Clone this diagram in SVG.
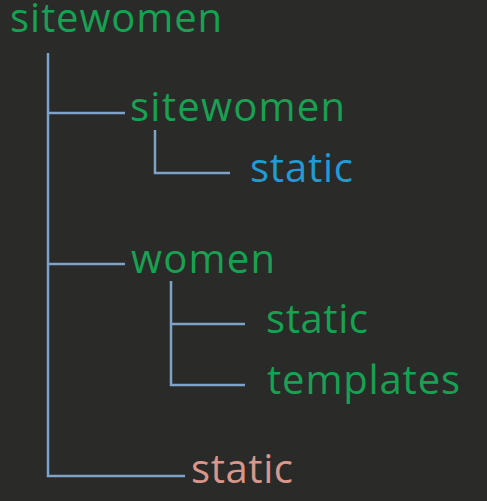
<svg xmlns="http://www.w3.org/2000/svg" width="487" height="501" viewBox="0 0 487 501">
<style>
text{font-family:"Open Sans","Liberation Sans",sans-serif;font-size:40px}
.g{fill:#17a152}
.b{fill:#1f9bd6}
.p{fill:#d8978a}
.c path{fill:none;stroke:#7fa2c9;stroke-width:2.5}
</style>
<rect width="487" height="501" fill="#2a2a29"/>
<g class="c" id="connectors">
<path d="M48,53 V476 H185"/>
<path d="M48,113 H125"/>
<path d="M48,264 H125"/>
<path d="M155,130 V173 H230"/>
<path d="M171,281 V385 H245"/>
<path d="M171,324 H245"/>
</g>
<g id="root"><text class="g" x="10" y="32" textLength="212" lengthAdjust="spacing">sitewomen</text></g>
<g id="sitewomen2"><text class="g" x="130" y="121" textLength="215" lengthAdjust="spacing">sitewomen</text></g>
<g id="static1"><text class="b" x="250" y="182" textLength="103" lengthAdjust="spacing">static</text></g>
<g id="women"><text class="g" x="131" y="273" textLength="144" lengthAdjust="spacing">women</text></g>
<g id="static2"><text class="g" x="266" y="333" textLength="102" lengthAdjust="spacing">static</text></g>
<g id="templates"><text class="g" x="267" y="394" textLength="193" lengthAdjust="spacing">templates</text></g>
<g id="static3"><text class="p" x="191" y="483" textLength="102" lengthAdjust="spacing">static</text></g>
</svg>
